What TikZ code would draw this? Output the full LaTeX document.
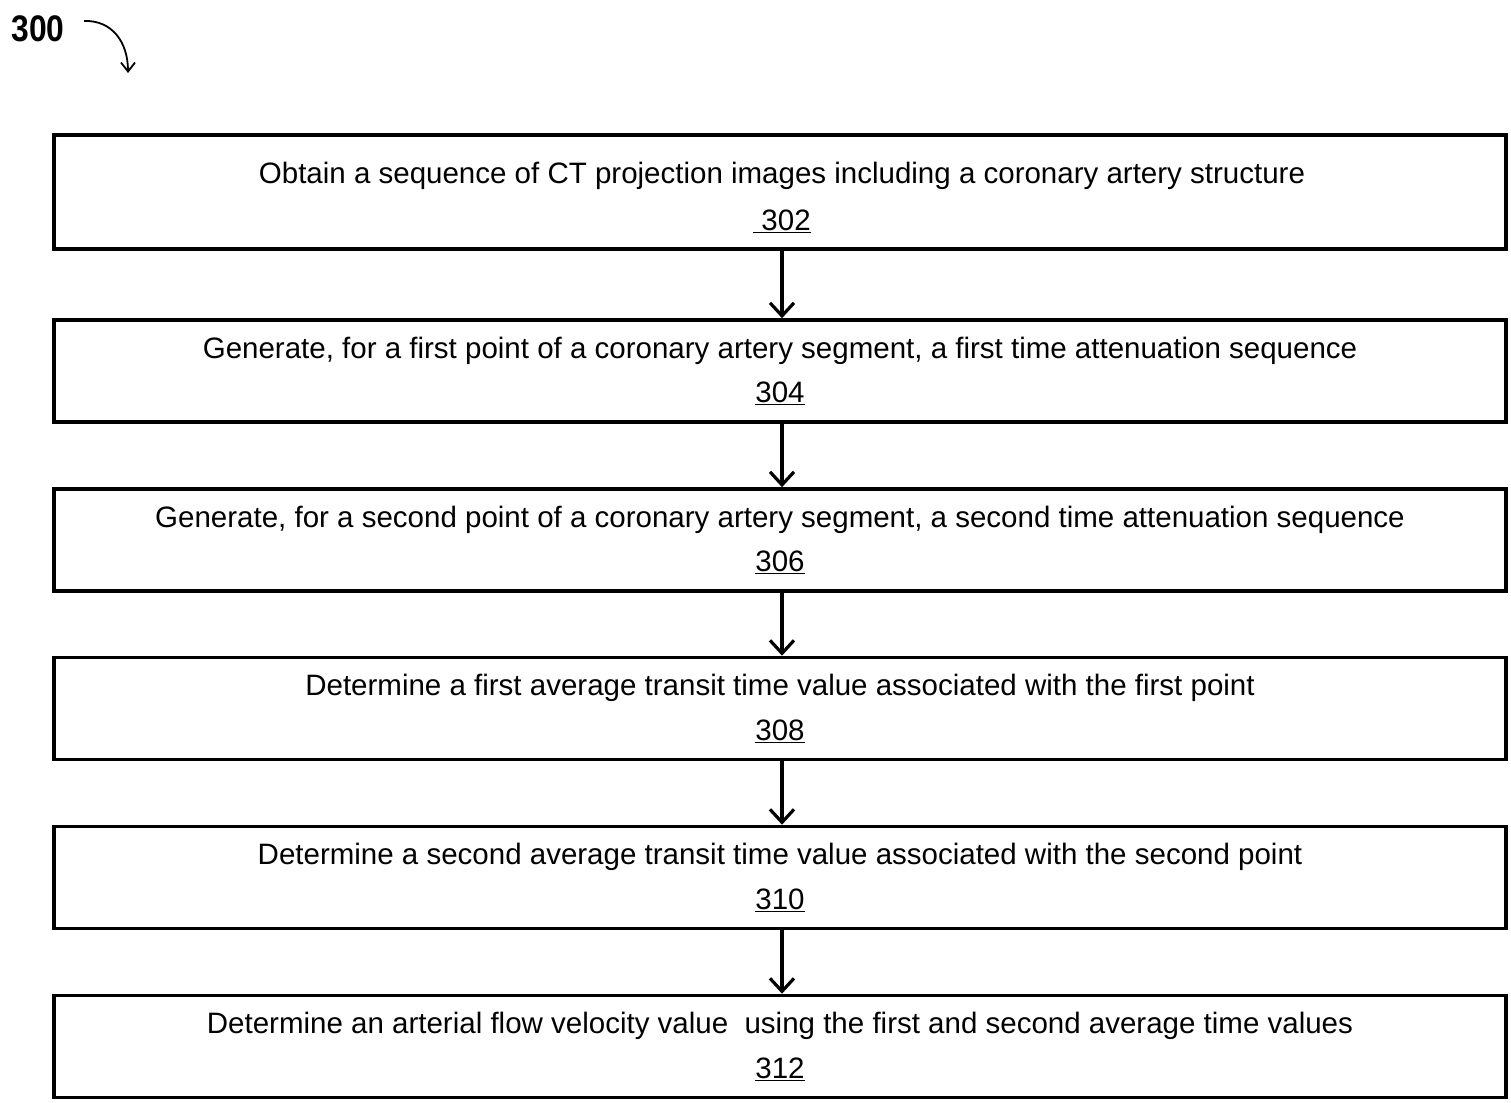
\documentclass[tikz,border=0pt]{standalone}
\usepackage{fontspec}
\setmainfont{Liberation Sans}
\newfontfamily\narrowbold{Liberation Sans}[FakeStretch=0.86]
\usetikzlibrary{arrows.meta}
\tikzset{
  stepbox/.style={draw=black, line width=3.6pt, rectangle, minimum width=1452pt, inner sep=0pt, align=center, font=\fontsize{29.5}{44.5}\selectfont},
  steptext/.style={inner sep=0pt, align=center, font=\fontsize{29.5}{46.5}\selectfont},
  flowarrow/.style={line width=3.6pt, -{Straight Barb[length=13pt,width=24pt,line width=3.2pt]}},
}
\begin{document}
\begin{tikzpicture}[x=1pt,y=-1pt]
\useasboundingbox (0,0) rectangle (1511,1102);
\node[font=\narrowbold\bfseries\fontsize{37}{40}\selectfont] (lab) at (38,29) {300};
\coordinate (ca) at (84,21);
\coordinate (cb) at (128,73);
\draw[line width=1.8pt, -{Straight Barb[length=9pt,width=14pt,line width=1.8pt]}] (ca) .. controls (112,20) and (128,42) .. (cb);

\node[stepbox, minimum height=114pt] (b1) at (780,192) {};
\node[steptext] (t1) at (782,197.5) {Obtain a sequence of CT projection images including a coronary artery structure\\\underline{\ 302}};
\node[stepbox, minimum height=102pt] (b2) at (780,371) {Generate, for a first point of a coronary artery segment, a first time attenuation sequence\\\underline{304}};
\node[stepbox, minimum height=102pt] (b3) at (780,540) {Generate, for a second point of a coronary artery segment, a second time attenuation sequence\\\underline{306}};
\node[stepbox, minimum height=102pt] (b4) at (780,708.5) {Determine a first average transit time value associated with the first point\\\underline{308}};
\node[stepbox, minimum height=102pt] (b5) at (780,877.5) {Determine a second average transit time value associated with the second point\\\underline{310}};
\node[stepbox, minimum height=102pt] (b6) at (780,1046.5) {Determine an arterial flow velocity value\ \ using the first and second average time values\\\underline{312}};

\foreach \a/\b in {b1/b2,b2/b3,b3/b4,b4/b5,b5/b6}{
  \draw[flowarrow] ([xshift=2pt]\a.south) -- ([xshift=2pt]\b.north);
}
\end{tikzpicture}
\end{document}
